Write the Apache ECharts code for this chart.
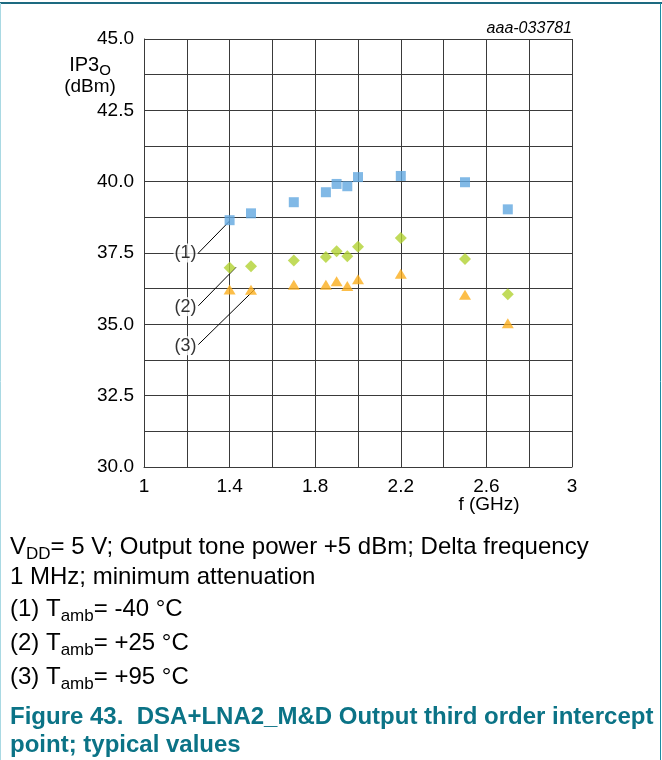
<!DOCTYPE html>
<html>
<head>
<meta charset="utf-8">
<script src="https://cdn.jsdelivr.net/npm/echarts@6/dist/echarts.min.js"></script>
<style>
  html, body { margin: 0; padding: 0; background: #fff; }
  #chart { width: 662px; height: 760px; }
</style>
</head>
<body>
<div id="chart"></div>
<script>
// frequency points (GHz)
var freq = [1.4, 1.5, 1.7, 1.85, 1.9, 1.95, 2.0, 2.2, 2.5, 2.7];
// IP3O (dBm) per temperature
var ip3Minus40 = [38.65, 38.89, 39.28, 39.63, 39.92, 39.84, 40.16, 40.2, 39.98, 39.03];
var ip3Plus25 = [36.98, 37.04, 37.24, 37.36, 37.56, 37.39, 37.72, 38.03, 37.29, 36.05];
var ip3Plus95 = [36.22, 36.21, 36.39, 36.39, 36.51, 36.34, 36.58, 36.77, 36.04, 35.04];
var seriesNames = ['(1)', '(2)', '(3)'];

// callouts: label spot and where the leader line ends (data units)
var calloutLabelAt = [[1.194, 37.5], [1.194, 35.62], [1.194, 34.25]];
var calloutLineFrom = [[1.254, 37.5], [1.254, 35.65], [1.254, 34.29]];
var calloutLineTo = [[1.4, 38.62], [1.43, 37.0], [1.517, 36.22]];

var FONT = '"Liberation Sans", Arial, sans-serif';
var gridColor = '#3a3a3a';

function pairs(xs, ys) {
    return xs.map(function (x, i) { return [x, ys[i]]; });
}

// rich styles for "main + subscript" text
function subText(fontSize, subSize) {
    return {
        n: { fontFamily: FONT, fontSize: fontSize, color: '#000', lineHeight: Math.round(fontSize * 1.3) },
        s: { fontFamily: FONT, fontSize: subSize, color: '#000', lineHeight: subSize, verticalAlign: 'bottom' }
    };
}

var myChart = echarts.init(document.getElementById('chart'));

var series = [
    {
        name: seriesNames[0], type: 'scatter', symbol: 'rect', symbolSize: [10, 10],
        itemStyle: { color: '#62a8e0' }, data: pairs(freq, ip3Minus40), z: 5
    },
    {
        name: seriesNames[1], type: 'scatter', symbol: 'diamond', symbolSize: [12, 12],
        itemStyle: { color: '#b2d232' }, data: pairs(freq, ip3Plus25), z: 5
    },
    {
        name: seriesNames[2], type: 'scatter', symbol: 'triangle', symbolSize: [12, 10],
        itemStyle: { color: '#fbae1c' }, data: pairs(freq, ip3Plus95), z: 5
    }
];

// leader lines
calloutLineFrom.forEach(function (from, i) {
    series.push({
        type: 'line', data: [from, calloutLineTo[i]], symbol: 'none', silent: true,
        lineStyle: { color: '#000', width: 1 }, z: 3
    });
});

// callout labels
series.push({
    type: 'scatter', symbolSize: 0, silent: true, z: 4,
    data: calloutLabelAt.map(function (p, i) { return { value: p, name: seriesNames[i] }; }),
    label: {
        show: true, position: 'inside', formatter: '{b}',
        fontFamily: FONT, fontSize: 18, color: '#000',
        backgroundColor: '#fff', padding: [1, 1, 0, 1]
    }
});

var rich24 = subText(24, 17);

var option = {
    animation: false,
    grid: { left: 144, top: 39, width: 428, height: 428, containLabel: false },
    xAxis: {
        type: 'value', min: 1, max: 3, interval: 0.2,
        axisLine: { show: true, lineStyle: { color: gridColor, width: 1 } },
        axisTick: { show: false },
        splitLine: { show: true, lineStyle: { color: gridColor, width: 1 } },
        axisLabel: {
            margin: 10, fontFamily: FONT, fontSize: 19, color: '#000',
            showMinLabel: true, showMaxLabel: true,
            formatter: function (v) {
                return Math.round((v - 1) * 10) % 4 === 0 ? String(+v.toFixed(1)) : '';
            }
        }
    },
    yAxis: {
        type: 'value', min: 30, max: 45, interval: 1.25,
        axisLine: { show: true, lineStyle: { color: gridColor, width: 1 } },
        axisTick: { show: false },
        splitLine: { show: true, lineStyle: { color: gridColor, width: 1 } },
        axisLabel: {
            margin: 10, fontFamily: FONT, fontSize: 19, color: '#000',
            showMinLabel: true, showMaxLabel: true,
            formatter: function (v) {
                return Math.round(v * 100) % 250 === 0 ? v.toFixed(1) : '';
            }
        }
    },
    graphic: [
        // frame
        { type: 'line', shape: { x1: 0, y1: 3, x2: 662, y2: 3 }, style: { stroke: '#1d6a80', lineWidth: 2 } },
        { type: 'line', shape: { x1: 0.5, y1: 3, x2: 0.5, y2: 760 }, style: { stroke: '#a9d9e3', lineWidth: 1 } },
        { type: 'line', shape: { x1: 660.5, y1: 3, x2: 660.5, y2: 760 }, style: { stroke: '#1b8ba2', lineWidth: 1 } },
        // figure id
        {
            type: 'text', style: {
                text: 'aaa-033781', x: 572, y: 29, align: 'right', verticalAlign: 'middle',
                font: 'italic 16px ' + FONT, fill: '#000'
            }
        },
        // y axis name
        {
            type: 'text', style: {
                text: '{n|IP3}{s|O}', x: 90, y: 65, align: 'center', verticalAlign: 'middle',
                rich: subText(20, 15)
            }
        },
        {
            type: 'text', style: {
                text: '(dBm)', x: 90, y: 87, align: 'center', verticalAlign: 'middle',
                font: '19px ' + FONT, fill: '#000'
            }
        },
        // x axis name
        {
            type: 'text', style: {
                text: 'f (GHz)', x: 489, y: 505, align: 'center', verticalAlign: 'middle',
                font: '19px ' + FONT, fill: '#000'
            }
        },
        // caption
        {
            type: 'text', style: {
                text: '{n|V}{s|DD}{n|= 5 V; Output tone power +5 dBm; Delta frequency}',
                x: 10, y: 547, verticalAlign: 'middle', rich: rich24
            }
        },
        {
            type: 'text', style: {
                text: '1 MHz; minimum attenuation', x: 10, y: 577, verticalAlign: 'middle',
                font: '24px ' + FONT, fill: '#000'
            }
        },
        {
            type: 'text', style: {
                text: '{n|(1) T}{s|amb}{n|= -40 °C}', x: 10, y: 609, verticalAlign: 'middle',
                rich: rich24
            }
        },
        {
            type: 'text', style: {
                text: '{n|(2) T}{s|amb}{n|= +25 °C}', x: 10, y: 643, verticalAlign: 'middle',
                rich: rich24
            }
        },
        {
            type: 'text', style: {
                text: '{n|(3) T}{s|amb}{n|= +95 °C}', x: 10, y: 677, verticalAlign: 'middle',
                rich: rich24
            }
        },
        // figure title
        {
            type: 'text', style: {
                text: 'Figure 43.  DSA+LNA2_M&D Output third order intercept', x: 10, y: 717,
                verticalAlign: 'middle', font: 'bold 24px ' + FONT, fill: '#0b7386'
            }
        },
        {
            type: 'text', style: {
                text: 'point; typical values', x: 10, y: 745,
                verticalAlign: 'middle', font: 'bold 24px ' + FONT, fill: '#0b7386'
            }
        }
    ],
    series: series
};

myChart.setOption(option);
</script>
</body>
</html>
